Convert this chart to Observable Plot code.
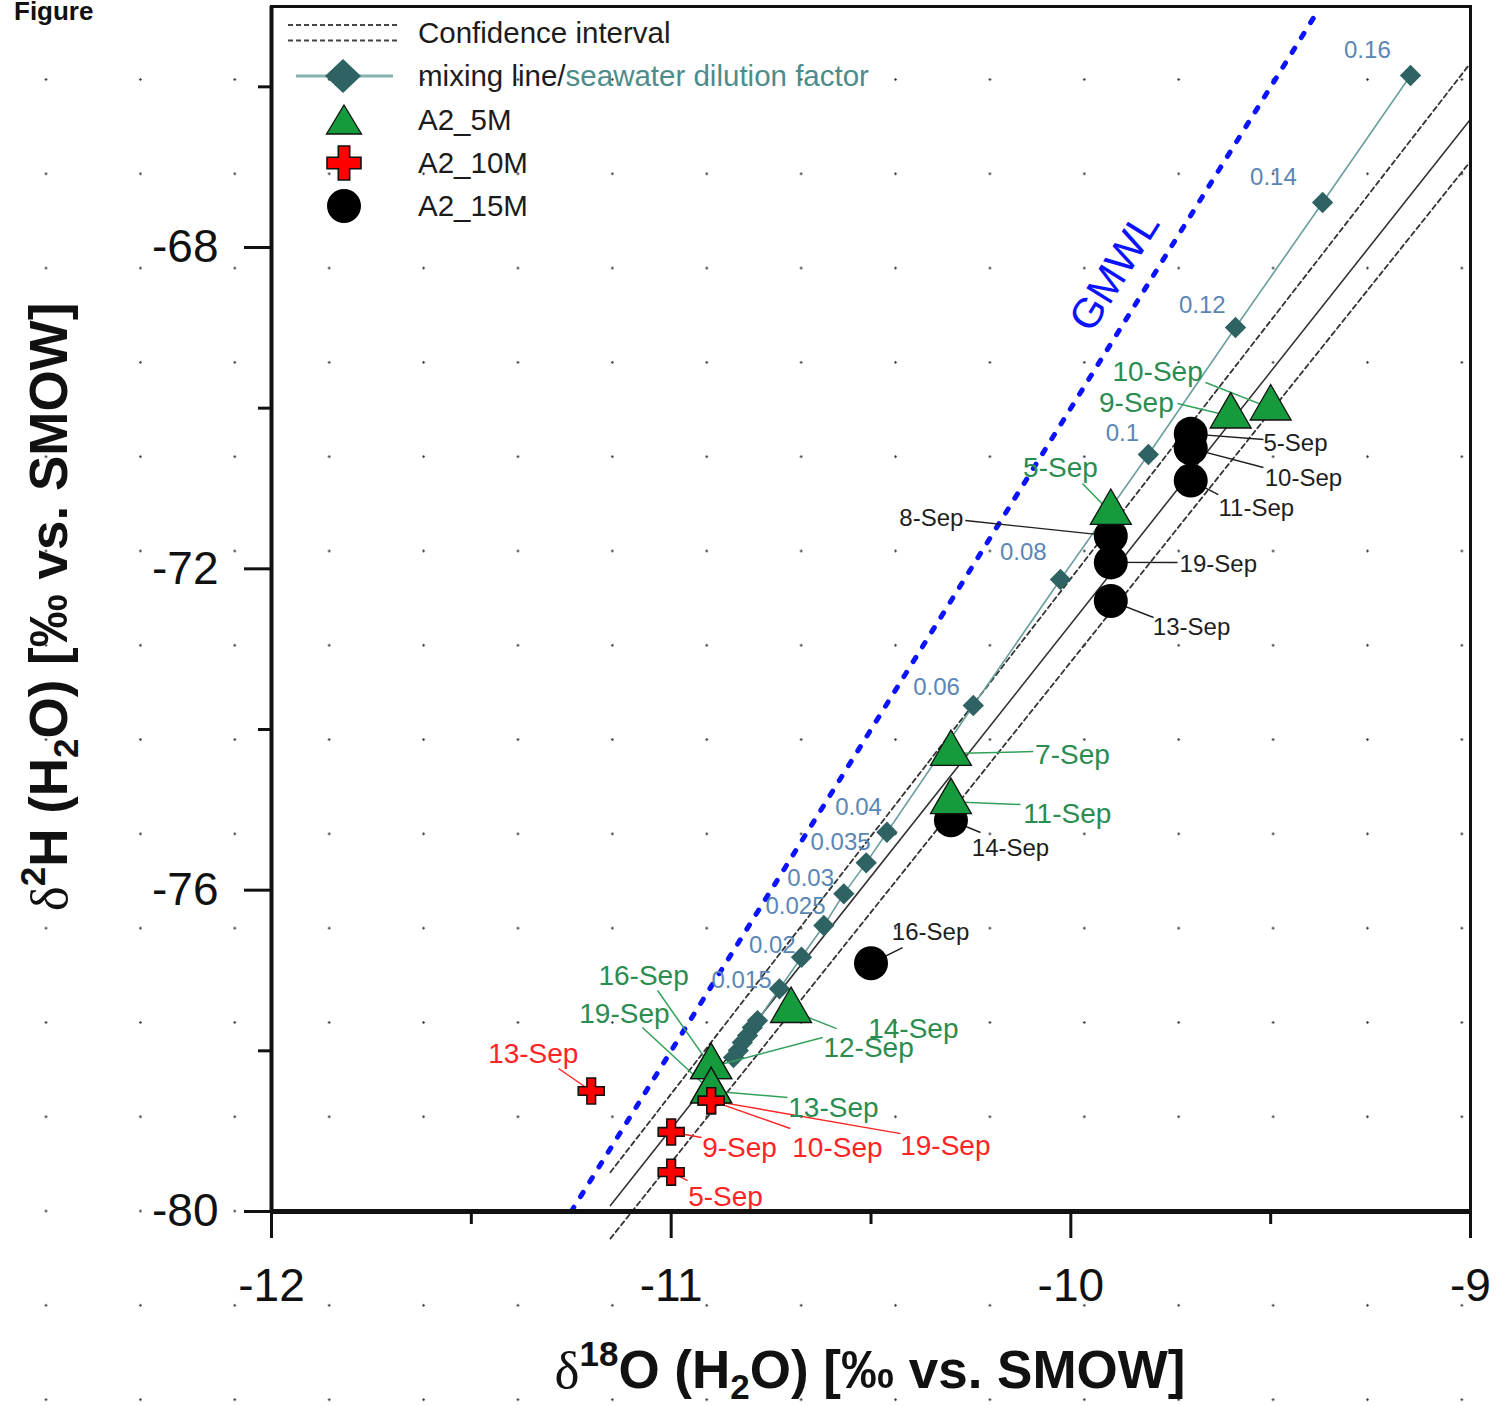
<!DOCTYPE html>
<html>
<head>
<meta charset="utf-8">
<script src="https://cdn.jsdelivr.net/npm/d3@7"></script>
<script src="https://cdn.jsdelivr.net/npm/@observablehq/plot@0.6"></script>
<style>
html, body { margin: 0; padding: 0; }
body {
  width: 1496px; height: 1406px; overflow: hidden;
  background-color: #ffffff;
  background-image: radial-gradient(circle, #3a3a3a 0, #3a3a3a 0.9px, rgba(255,255,255,0) 1.5px);
  background-size: 94.4px 94.3px;
  background-position: -1.2px 32.35px;
  font-family: "Liberation Sans", Arial, sans-serif;
}
#wrap { position: relative; width: 1496px; height: 1406px; }
#chart svg { position: absolute; left: 0; top: 0; }
.abs { position: absolute; white-space: nowrap; }
.leg { font-size: 29.5px; line-height: 32px; color: #1c1c1c; left: 418px; }
.title { font-weight: bold; font-size: 53px; line-height: 60px; color: #111; }
.delta { font-family: "Liberation Serif", "DejaVu Serif", serif; font-weight: normal; }
.sup { font-size: 0.66em; position: relative; top: -0.62em; }
.sub { font-size: 0.66em; position: relative; top: 0.32em; }
</style>
</head>
<body>
<div id="wrap">
  <div id="chart"></div>
  <div class="abs" style="left:14px; top:-4px; font-weight:bold; font-size:26px; line-height:30px; color:#111;">Figure</div>

  <svg class="abs" width="420" height="240" style="left:0; top:0; overflow:visible;">
    <line x1="288" y1="25" x2="400" y2="25" stroke="#444" stroke-width="1.8" stroke-dasharray="5,3"/>
    <line x1="288" y1="40.5" x2="400" y2="40.5" stroke="#444" stroke-width="1.8" stroke-dasharray="5,3"/>
    <line x1="296" y1="76" x2="393" y2="76" stroke="#86b2b0" stroke-width="3"/>
    <path d="M343,59 L361,76 L343,93 L325,76Z" fill="#2f6262"/>
    <path d="M344,105 L361.5,134 L326.5,134Z" fill="#159a3c" stroke="#111" stroke-width="1.3"/>
    <path d="M338.3,146 H349.7 V157.3 H361 V168.7 H349.7 V180 H338.3 V168.7 H327 V157.3 H338.3 Z" fill="#ff0000" stroke="#111" stroke-width="1.6"/>
    <circle cx="344" cy="206" r="17" fill="#000"/>
  </svg>
  <div class="abs leg" style="top:17px;">Confidence interval</div>
  <div class="abs leg" style="top:60px;">mixing line/<span style="color:#4d8c8a;">seawater dilution factor</span></div>
  <div class="abs leg" style="top:104px;">A2_5M</div>
  <div class="abs leg" style="top:147px;">A2_10M</div>
  <div class="abs leg" style="top:190px;">A2_15M</div>

  <div class="abs title" id="xtitle" style="left:870px; top:1340px; transform:translateX(-50%);"><span class="delta">δ</span><span class="sup">18</span>O (H<span class="sub">2</span>O) [‰ vs. SMOW]</div>
  <div class="abs title" id="ytitle" style="left:52px; top:607px; transform:translate(-50%,-50%) rotate(-90deg);"><span class="delta">δ</span><span class="sup">2</span>H (H<span class="sub">2</span>O) [‰ vs. SMOW]</div>
</div>

<script>
// ---------------- data ----------------
const xMajorTicks = [-12, -11, -10, -9];
const xMinorTicks = [-11.5, -10.5, -9.5];
const yMajorTicks = [-80, -76, -72, -68];
const yMinorTicks = [-78, -74, -70, -66];

// Global meteoric water line (end points)
const gmwlO = [-11.25, -9.38];
const gmwlH = [-80.0, -65.04];
const gmwlLabelO = -9.89;
const gmwlLabelH = -68.30;

// Regression line and confidence interval (end points)
const fitO = [-11.152, -9.0];
const fitH = [-79.926, -66.403];
const ciUpperH = [-79.511, -65.704];
const ciLowerH = [-80.337, -66.927];

// Mixing line / seawater dilution factor
const dilutionFactor = [0.16, 0.14, 0.12, 0.1, 0.08, 0.06, 0.04, 0.035, 0.03, 0.025, 0.02, 0.015, 0.01, 0.009, 0.008, 0.007, 0.006, 0.005];
const mixO = [-9.150, -9.370, -9.588, -9.806, -10.026, -10.244, -10.460, -10.512, -10.568, -10.618, -10.674, -10.729, -10.784, -10.797, -10.809, -10.822, -10.832, -10.844];
const mixH = [-65.859, -67.440, -68.996, -70.577, -72.133, -73.701, -75.279, -75.660, -76.046, -76.440, -76.835, -77.228, -77.623, -77.710, -77.810, -77.897, -77.996, -78.083];
const dilutionLabel = ["0.16", "0.14", "0.12", "0.1", "0.08", "0.06", "0.04", "0.035", "0.03", "0.025", "0.02", "0.015"];
const dilutionLabelO = [-9.258, -9.493, -9.671, -9.871, -10.119, -10.336, -10.531, -10.576, -10.651, -10.689, -10.747, -10.824];
const dilutionLabelH = [-65.548, -67.129, -68.722, -70.315, -71.797, -73.477, -74.971, -75.407, -75.855, -76.204, -76.689, -77.125];

// A2_5M (triangles)
const a5Date = ["10-Sep", "9-Sep", "5-Sep", "7-Sep", "11-Sep", "14-Sep", "12-Sep", "16-Sep", "19-Sep", "13-Sep"];
const a5O = [-9.5, -9.6, -9.9, -10.3, -10.3, -10.7, -10.9, -10.9, -10.9, -10.9];
const a5H = [-70.0, -70.1, -71.3, -74.3, -74.9, -77.5, -78.2, -78.2, -78.5, -78.5];
const a5LabelO = [-9.783, -9.836, -10.026, -9.996, -10.009, -10.394, -10.506, -11.069, -11.117, -10.594];
const a5LabelH = [-69.556, -69.942, -70.739, -74.324, -75.058, -77.723, -77.959, -77.063, -77.536, -78.706];
const a5LeaderO = [-9.663, -9.733, -9.971, -10.094, -10.126, -10.586, -10.621, -11.034, -11.072, -10.709];
const a5LeaderH = [-69.681, -69.942, -70.938, -74.274, -74.934, -77.723, -77.834, -77.249, -77.710, -78.581];

// A2_10M (crosses)
const a10Date = ["13-Sep", "9-Sep", "10-Sep", "19-Sep", "5-Sep"];
const a10O = [-11.2, -11.0, -10.9, -10.9, -11.0];
const a10H = [-78.50, -79.01, -78.62, -78.62, -79.51];
const a10LabelO = [-11.345, -10.829, -10.584, -10.314, -10.864];
const a10LabelH = [-78.034, -79.216, -79.204, -79.179, -79.826];
const a10LeaderO = [-11.282, -10.924, -10.702, -10.426, -10.959];
const a10LeaderH = [-78.220, -79.079, -78.967, -79.030, -79.615];

// A2_15M (circles)
const a15Date = ["5-Sep", "10-Sep", "11-Sep", "8-Sep", "19-Sep", "13-Sep", "14-Sep", "16-Sep"];
const a15O = [-9.7, -9.7, -9.7, -9.9, -9.9, -9.9, -10.3, -10.5];
const a15H = [-70.32, -70.50, -70.90, -71.59, -71.92, -72.40, -75.13, -76.91];
const a15LabelO = [-9.438, -9.418, -9.536, -10.349, -9.631, -9.698, -10.151, -10.351];
const a15LabelH = [-70.440, -70.876, -71.249, -71.374, -71.946, -72.730, -75.482, -76.527];
const a15LeaderO = [-9.518, -9.518, -9.631, -10.264, -9.733, -9.793, -10.226, -10.421];
const a15LeaderH = [-70.390, -70.739, -71.075, -71.399, -71.921, -72.606, -75.282, -76.714];

// ---------------- build tables ----------------
const pairs = (xs, ys) => xs.map((x, i) => ({x, y: ys[i]}));
const gmwl = pairs(gmwlO, gmwlH);
const fit = pairs(fitO, fitH);
const ciUpper = pairs(fitO, ciUpperH);
const ciLower = pairs(fitO, ciLowerH);
const mix = dilutionFactor.map((f, i) => ({f, x: mixO[i], y: mixH[i]}));
const mixLabels = dilutionLabel.map((t, i) => ({t, x: dilutionLabelO[i], y: dilutionLabelH[i]}));
const series = (dates, xs, ys, lxs, lys, qxs, qys) => dates.map((d, i) => ({
  d, x: xs[i], y: ys[i], lx: lxs[i], ly: lys[i], qx: qxs[i], qy: qys[i]
}));
const a5 = series(a5Date, a5O, a5H, a5LabelO, a5LabelH, a5LeaderO, a5LeaderH);
const a10 = series(a10Date, a10O, a10H, a10LabelO, a10LabelH, a10LeaderO, a10LeaderH);
const a15 = series(a15Date, a15O, a15H, a15LabelO, a15LabelH, a15LeaderO, a15LeaderH);

const diamond = {
  draw(context, size) {
    const h = Math.sqrt(size / 2);
    context.moveTo(0, -h); context.lineTo(h, 0); context.lineTo(0, h); context.lineTo(-h, 0); context.closePath();
  }
};

const green = "#2b8c4f", greenLine = "#33a05a";
const red = "#ff2424";
const ink = "#1e1e1e";

const chart = Plot.plot({
  width: 1496,
  height: 1406,
  marginLeft: 271,
  marginRight: 26,
  marginTop: 6,
  marginBottom: 195,
  x: {domain: [-12, -9]},
  y: {domain: [-80, -65]},
  style: {background: "transparent", fontFamily: "'Liberation Sans', Arial, sans-serif", overflow: "visible", color: "#111"},
  marks: [
    // confidence interval + regression
    Plot.line(ciUpper, {x: "x", y: "y", stroke: "#333", strokeWidth: 1.8, strokeDasharray: "5,3.5"}),
    Plot.line(ciLower, {x: "x", y: "y", stroke: "#333", strokeWidth: 1.8, strokeDasharray: "5,3.5"}),
    Plot.line(fit, {x: "x", y: "y", stroke: "#333", strokeWidth: 1.6}),
    // GMWL
    Plot.line(gmwl, {x: "x", y: "y", stroke: "#0b12ff", strokeWidth: 5, strokeDasharray: "5,12.5", strokeLinecap: "round"}),
    Plot.text([{x: gmwlLabelO, y: gmwlLabelH}], {x: "x", y: "y", text: () => "GMWL", rotate: -58, fill: "#0b12ff", fontSize: 42}),
    // mixing line
    Plot.line(mix, {x: "x", y: "y", stroke: "#6b9e9c", strokeWidth: 1.6}),
    Plot.dot(mix, {x: "x", y: "y", symbol: diamond, r: 8.5, fill: "#2f6262", stroke: "none"}),
    Plot.text(mixLabels, {x: "x", y: "y", text: "t", fill: "#5a86b5", fontSize: 24}),
    // leaders
    Plot.link(a15, {x1: "qx", y1: "qy", x2: "x", y2: "y", stroke: ink, strokeWidth: 1.4}),
    Plot.link(a5, {x1: "qx", y1: "qy", x2: "x", y2: "y", stroke: greenLine, strokeWidth: 1.5}),
    Plot.link(a10, {x1: "qx", y1: "qy", x2: "x", y2: "y", stroke: red, strokeWidth: 1.4}),
    // samples
    Plot.dot(a15, {x: "x", y: "y", r: 17, fill: "#000", stroke: "none"}),
    Plot.dot(a5, {x: "x", y: "y", symbol: "triangle", r: 15.2, fill: "#159a3c", stroke: "#111", strokeWidth: 1.3}),
    Plot.dot(a10, {x: "x", y: "y", symbol: "cross", r: 10.9, fill: "#ff0000", stroke: "#111", strokeWidth: 1.6}),
    // labels
    Plot.text(a15, {x: "lx", y: "ly", text: "d", fill: ink, fontSize: 24}),
    Plot.text(a5, {x: "lx", y: "ly", text: "d", fill: green, fontSize: 28}),
    Plot.text(a10, {x: "lx", y: "ly", text: "d", fill: red, fontSize: 28}),
    // frame and axes
    Plot.frame({stroke: "#111", strokeWidth: 3}),
    Plot.ruleY([-80], {stroke: "#111", strokeWidth: 5}),
    Plot.ruleX([-12], {stroke: "#111", strokeWidth: 4}),
    Plot.axisX({ticks: xMajorTicks, tickSize: 27, tickPadding: 30, fontSize: 46, strokeWidth: 3, label: null, tickFormat: d => String(d)}),
    Plot.axisX({ticks: xMinorTicks, tickSize: 13, strokeWidth: 3, label: null, tickFormat: () => ""}),
    Plot.axisY({ticks: yMajorTicks, tickSize: 27, tickPadding: 26, fontSize: 46, strokeWidth: 3, label: null, tickFormat: d => String(d)}),
    Plot.axisY({ticks: yMinorTicks, tickSize: 13, strokeWidth: 3, label: null, tickFormat: () => ""})
  ]
});
document.getElementById("chart").appendChild(chart);
</script>
</body>
</html>
